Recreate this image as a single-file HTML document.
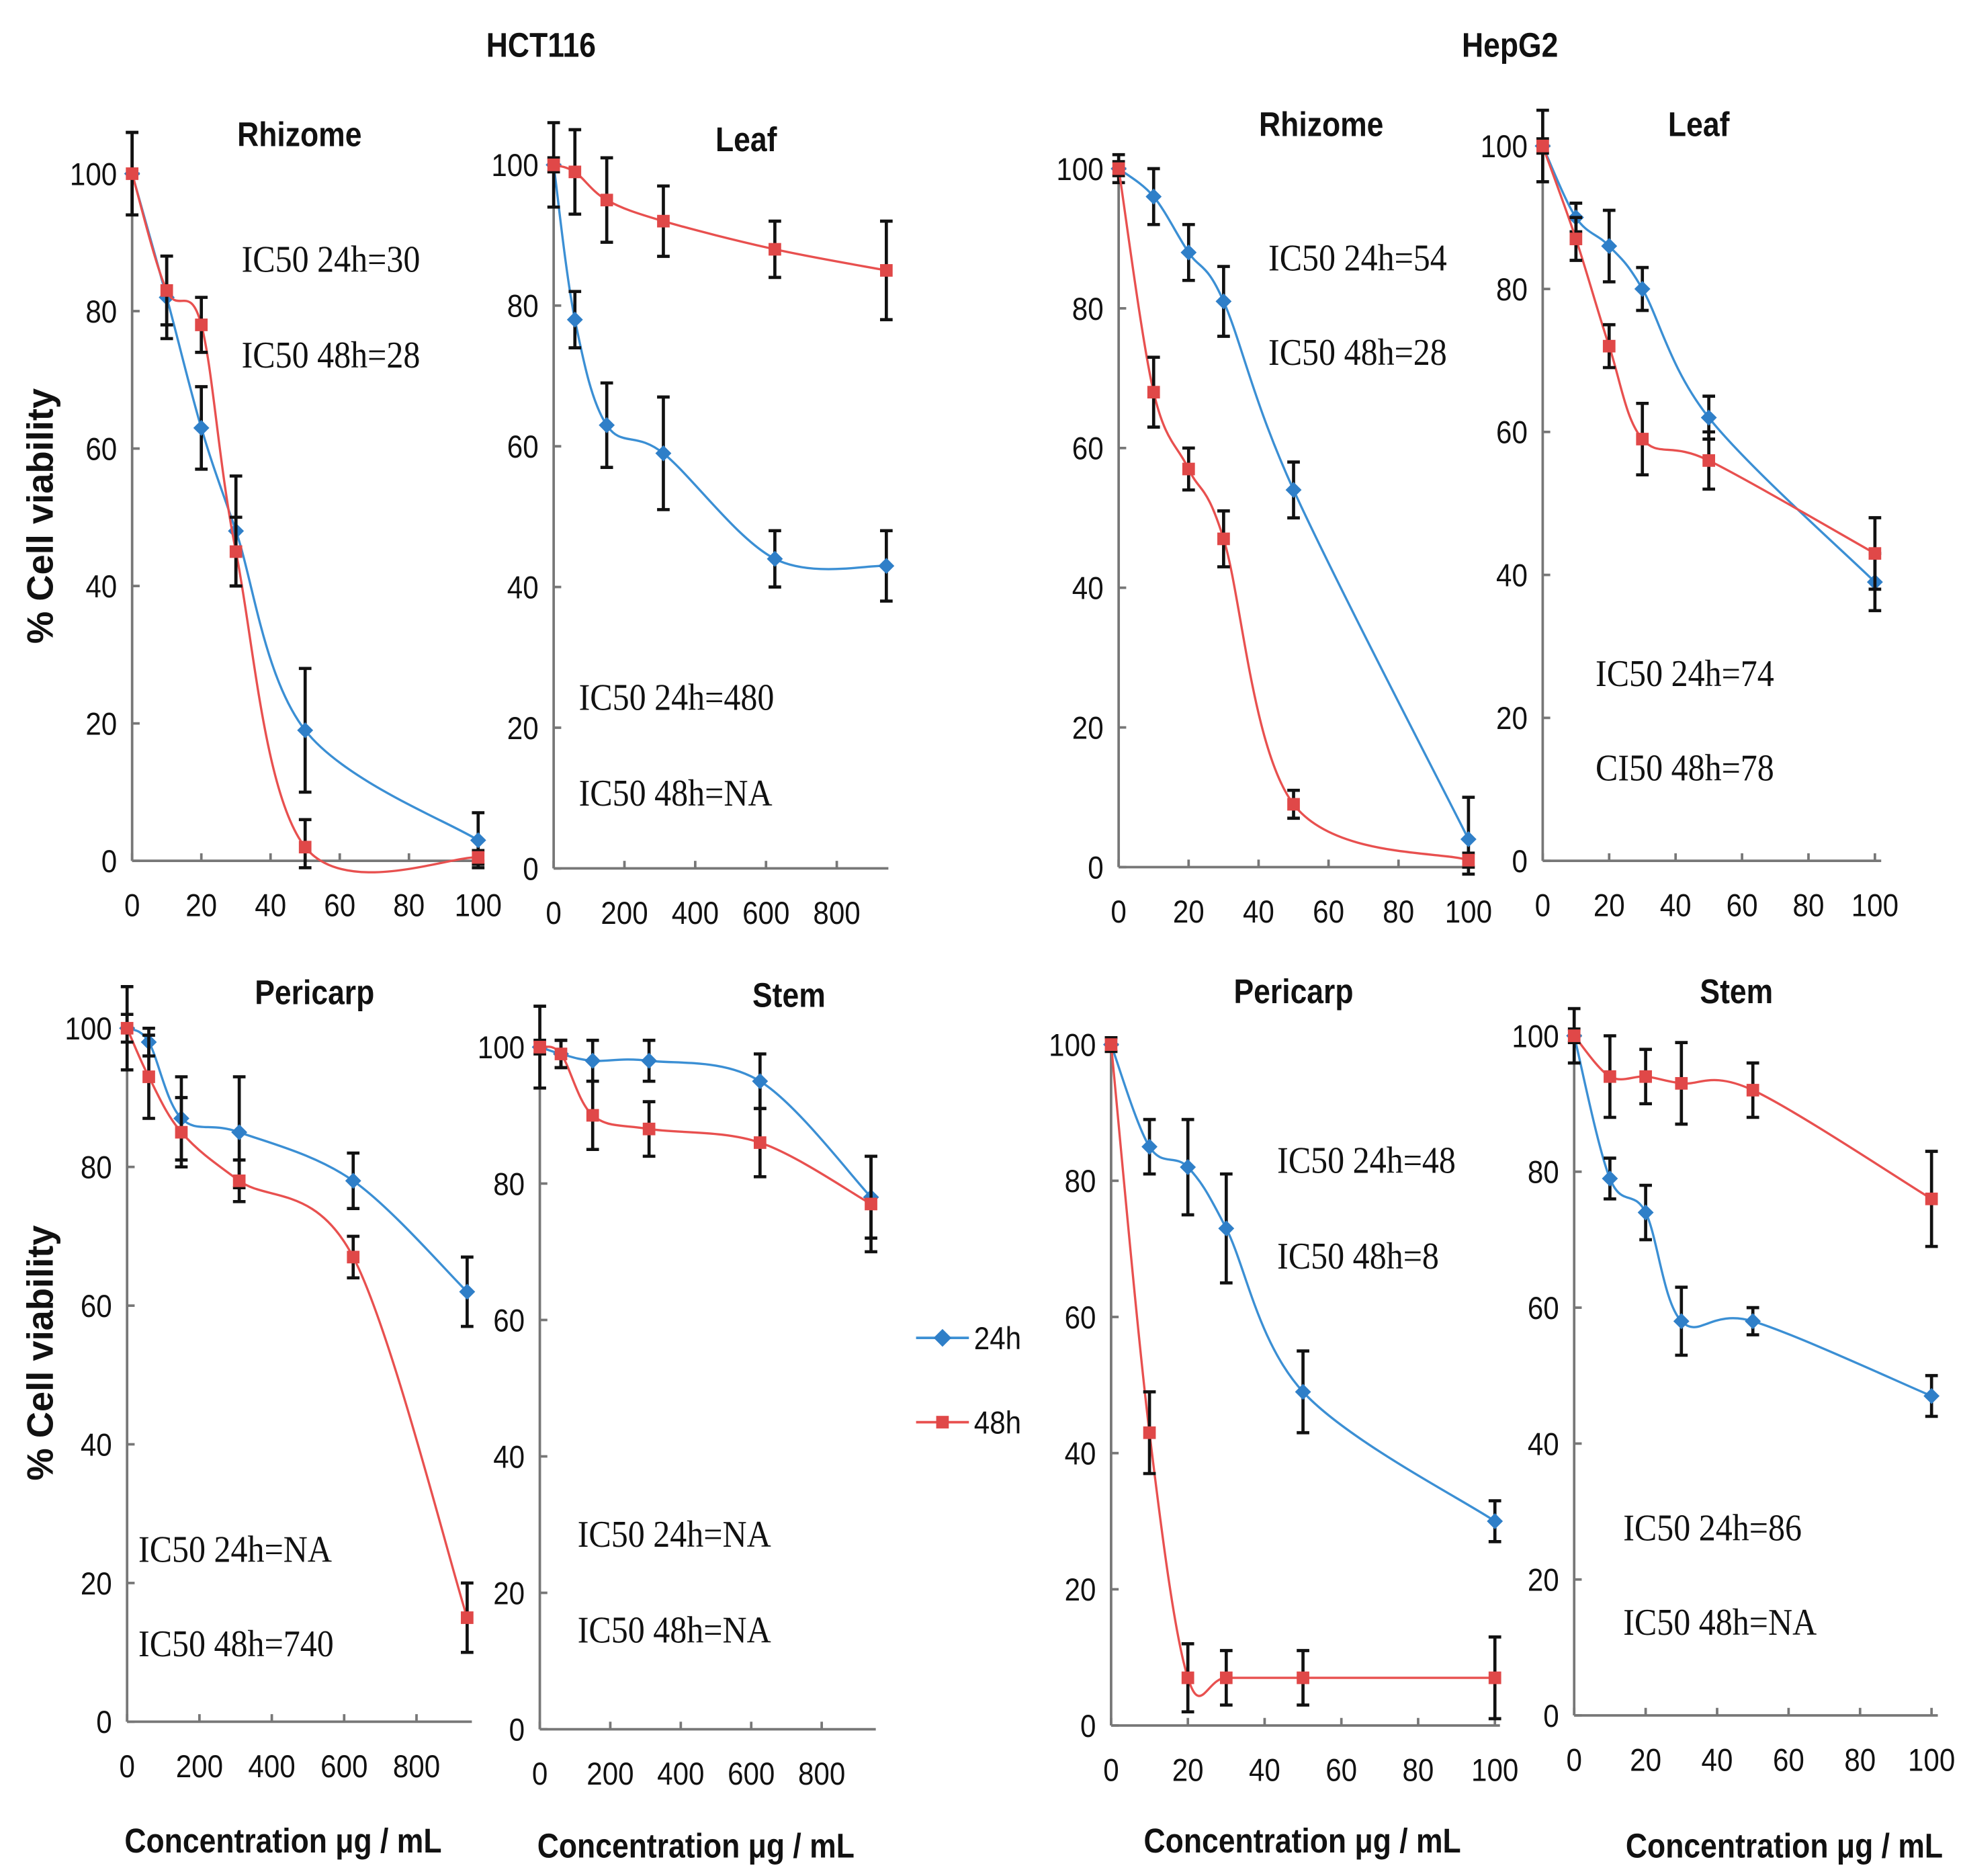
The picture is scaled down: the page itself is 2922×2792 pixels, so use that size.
<!DOCTYPE html>
<html><head><meta charset="utf-8"><style>
html,body{margin:0;padding:0;background:#fff;}
svg{display:block;}
text{transform-box:fill-box;}
.tick{font-family:"Liberation Sans",sans-serif;font-size:25px;fill:#111;transform:scaleX(.9);}
.ttl{font-family:"Liberation Sans",sans-serif;font-size:27px;font-weight:bold;fill:#111;transform-origin:center;transform:scaleX(.88);}
.ytl{font-family:"Liberation Sans",sans-serif;font-size:29px;font-weight:bold;fill:#111;}
.ic{font-family:"Liberation Serif",serif;font-size:30px;fill:#111;transform-origin:left center;transform:scaleX(.89);}
.a-end{transform-origin:right center;}
.a-mid{transform-origin:center;}
</style></head><body>
<svg id="chart" width="2922" height="2792" viewBox="0 0 1560 1490.6" xmlns="http://www.w3.org/2000/svg">
<text class="ttl" x="430" y="45" text-anchor="middle">HCT116</text>
<text class="ttl" x="1200" y="45" text-anchor="middle">HepG2</text>
<g transform="translate(42,410) rotate(-90)"><text class="ytl" x="0" y="0" text-anchor="middle">% Cell viability</text></g>
<g transform="translate(42,1075) rotate(-90)"><text class="ytl" x="0" y="0" text-anchor="middle">% Cell viability</text></g>
<text class="ttl" x="225" y="1472" text-anchor="middle">Concentration  μg / mL</text>
<text class="ttl" x="553" y="1476" text-anchor="middle">Concentration  μg / mL</text>
<text class="ttl" x="1035" y="1472" text-anchor="middle">Concentration  μg / mL</text>
<text class="ttl" x="1418" y="1476" text-anchor="middle">Concentration  μg / mL</text>
<g>
<line x1="728" y1="1063" x2="770" y2="1063" stroke="#3b8fd4" stroke-width="2"/>
<rect x="744" y="1058" width="10" height="10" fill="#2f7fc8" transform="rotate(45 749 1063)"/>
<text class="tick" x="774" y="1072" style="transform-origin:left center">24h</text>
<line x1="728" y1="1130" x2="770" y2="1130" stroke="#e8504f" stroke-width="2"/>
<rect x="744" y="1125" width="10" height="10" fill="#e04848"/>
<text class="tick" x="774" y="1139" style="transform-origin:left center">48h</text>
</g>
<g id="plots"></g>
</svg>
<script>
const xA=[0,10,20,30,50,100];
const xB=[0,60,150,310,625,940];
const p1_24=[100,82,63,48,19,3], p1_48=[100,83,78,45,2,0.5], p1_e24=[6,6,6,8,9,4], p1_e48=[6,5,4,5,4,1];
const p2_24=[100,78,63,59,44,43], p2_48=[100,99,95,92,88,85], p2_e24=[6,4,6,8,4,5], p2_e48=[1,6,6,5,4,7];
const p3_24=[100,96,88,81,54,4], p3_48=[100,68,57,47,9,1], p3_e24=[2,4,4,5,4,6], p3_e48=[1,5,3,4,2,1];
const p4_24=[100,90,86,80,62,39], p4_48=[100,87,72,59,56,43], p4_e24=[5,2,5,3,3,4], p4_e48=[1,3,3,5,4,5];
const p5_24=[100,98,87,85,78,62], p5_48=[100,93,85,78,67,15], p5_e24=[6,2,6,8,4,5], p5_e48=[2,6,5,3,3,5];
const p6_24=[100,99,98,98,95,78], p6_48=[100,99,90,88,86,77], p6_e24=[6,2,3,3,4,6], p6_e48=[1,2,5,4,5,7];
const p7_24=[100,85,82,73,49,30], p7_48=[100,43,7,7,7,7], p7_e24=[1,4,7,8,6,3], p7_e48=[1,6,5,4,4,6];
const p8_24=[100,79,74,58,58,47], p8_48=[100,94,94,93,92,76], p8_e24=[4,3,4,5,2,3], p8_e48=[1,6,4,6,4,7];
const ticksA=[0,20,40,60,80,100], ticksB=[0,200,400,600,800], ticksY=[0,20,40,60,80,100];

const panels=[
 {name:'hct116-rhizome',title:'Rhizome',tx:238,ty:116,ax:105,y100:138,y0:684,xs:xA,xmax:100,x1:380,xend:385,ticks:ticksA,d24:p1_24,d48:p1_48,e24:p1_e24,e48:p1_e48,ic:['IC50 24h=30','IC50 48h=28'],icx:192,icy:[216,292]},
 {name:'hct116-leaf',title:'Leaf',tx:593,ty:120,ax:440,y100:131,y0:690,xs:xB,xmax:800,x1:665,xend:706,ticks:ticksB,d24:p2_24,d48:p2_48,e24:p2_e24,e48:p2_e48,ic:['IC50 24h=480','IC50 48h=NA'],icx:460,icy:[564,640]},
 {name:'hepg2-rhizome',title:'Rhizome',tx:1050,ty:108,ax:889,y100:134,y0:689,xs:xA,xmax:100,x1:1167,xend:1172,ticks:ticksA,d24:p3_24,d48:p3_48,e24:p3_e24,e48:p3_e48,ic:['IC50 24h=54','IC50 48h=28'],icx:1008,icy:[215,290]},
 {name:'hepg2-leaf',title:'Leaf',tx:1350,ty:108,ax:1226,y100:116,y0:684,xs:xA,xmax:100,x1:1490,xend:1495,ticks:ticksA,d24:p4_24,d48:p4_48,e24:p4_e24,e48:p4_e48,ic:['IC50 24h=74','CI50 48h=78'],icx:1268,icy:[545,620]},
 {name:'hct116-pericarp',title:'Pericarp',tx:250,ty:798,ax:101,y100:817,y0:1368,xs:xB,xmax:800,x1:331,xend:375,ticks:ticksB,d24:p5_24,d48:p5_48,e24:p5_e24,e48:p5_e48,ic:['IC50 24h=NA','IC50 48h=740'],icx:110,icy:[1241,1316]},
 {name:'hct116-stem',title:'Stem',tx:627,ty:800,ax:429,y100:832,y0:1374,xs:xB,xmax:800,x1:653,xend:696,ticks:ticksB,d24:p6_24,d48:p6_48,e24:p6_e24,e48:p6_e48,ic:['IC50 24h=NA','IC50 48h=NA'],icx:459,icy:[1229,1305]},
 {name:'hepg2-pericarp',title:'Pericarp',tx:1028,ty:797,ax:883,y100:830,y0:1371,xs:xA,xmax:100,x1:1188,xend:1192,ticks:ticksA,d24:p7_24,d48:p7_48,e24:p7_e24,e48:p7_e48,ic:['IC50 24h=48','IC50 48h=8'],icx:1015,icy:[932,1008]},
 {name:'hepg2-stem',title:'Stem',tx:1380,ty:797,ax:1251,y100:823,y0:1363,xs:xA,xmax:100,x1:1535,xend:1540,ticks:ticksA,d24:p8_24,d48:p8_48,e24:p8_e24,e48:p8_e48,ic:['IC50 24h=86','IC50 48h=NA'],icx:1290,icy:[1224,1299]}
];
const NS='http://www.w3.org/2000/svg';
const root=document.getElementById('plots');
function mk(tag,attrs,parent){const e=document.createElementNS(NS,tag);for(const k in attrs)e.setAttribute(k,attrs[k]);parent.appendChild(e);return e;}
function spline(pts){
 let d='M'+pts[0][0]+','+pts[0][1];
 for(let i=0;i<pts.length-1;i++){
  const p0=pts[i-1]||pts[i],p1=pts[i],p2=pts[i+1],p3=pts[i+2]||p2,t=6;
  d+=' C'+(p1[0]+(p2[0]-p0[0])/t)+','+(p1[1]+(p2[1]-p0[1])/t)+' '+(p2[0]-(p3[0]-p1[0])/t)+','+(p2[1]-(p3[1]-p1[1])/t)+' '+p2[0]+','+p2[1];
 }
 return d;
}
panels.forEach(p=>{
 const g=mk('g',{},root);
 
 
 const X=v=>p.ax+(p.x1-p.ax)*v/p.xmax;
 const Y=v=>p.y0-(p.y0-p.y100)*v/100;
 const t=mk('text',{class:'ttl',x:p.tx,y:p.ty,'text-anchor':'middle'},g);t.textContent=p.title;
 
 
 mk('line',{x1:p.ax,y1:p.y100-4,x2:p.ax,y2:p.y0,stroke:'#777','stroke-width':2},g);
 mk('line',{x1:p.ax,y1:p.y0,x2:p.xend,y2:p.y0,stroke:'#777','stroke-width':2},g);
 ticksY.forEach(v=>{
  mk('line',{x1:p.ax,y1:Y(v),x2:p.ax+6,y2:Y(v),stroke:'#777','stroke-width':2},g);
  const tl=mk('text',{class:'tick a-end',x:p.ax-12,y:Y(v)+9,'text-anchor':'end'},g);tl.textContent=v;
  
  
 });
 p.ticks.forEach(v=>{
  mk('line',{x1:X(v),y1:p.y0,x2:X(v),y2:p.y0-6,stroke:'#777','stroke-width':2},g);
  const tl=mk('text',{class:'tick a-mid',x:X(v),y:p.y0+44,'text-anchor':'middle'},g);tl.textContent=v;
  
  
 });
 [['24h',p.d24,p.e24,'#3b8fd4','#2f7fc8'],['48h',p.d48,p.e48,'#e8504f','#e04848']].forEach(([nm,d,e,lc,mc])=>{
  const pts=p.xs.map((x,i)=>[X(x),Y(d[i])]);
  const path=mk('path',{d:spline(pts),fill:'none',stroke:lc,'stroke-width':1.8},g);
  
  
  pts.forEach((pt,i)=>{
   const top=Y(d[i]+e[i]),bot=Y(Math.max(d[i]-e[i],-1));
   mk('line',{x1:pt[0],y1:top,x2:pt[0],y2:bot,stroke:'#111','stroke-width':2.5},g);
   mk('line',{x1:pt[0]-5,y1:top,x2:pt[0]+5,y2:top,stroke:'#111','stroke-width':2.5},g);
   mk('line',{x1:pt[0]-5,y1:bot,x2:pt[0]+5,y2:bot,stroke:'#111','stroke-width':2.5},g);
   let m;
   if(nm==='24h') m=mk('rect',{x:pt[0]-4.5,y:pt[1]-4.5,width:9,height:9,fill:mc,transform:'rotate(45 '+pt[0]+' '+pt[1]+')'},g);
   else m=mk('rect',{x:pt[0]-5,y:pt[1]-5,width:10,height:10,fill:mc},g);
   
   
  });
 });
 p.ic.forEach((s,i)=>{
  const tx=mk('text',{class:'ic',x:p.icx,y:p.icy[i]},g);tx.textContent=s;
  
  
 });
});
</script>
</body></html>
